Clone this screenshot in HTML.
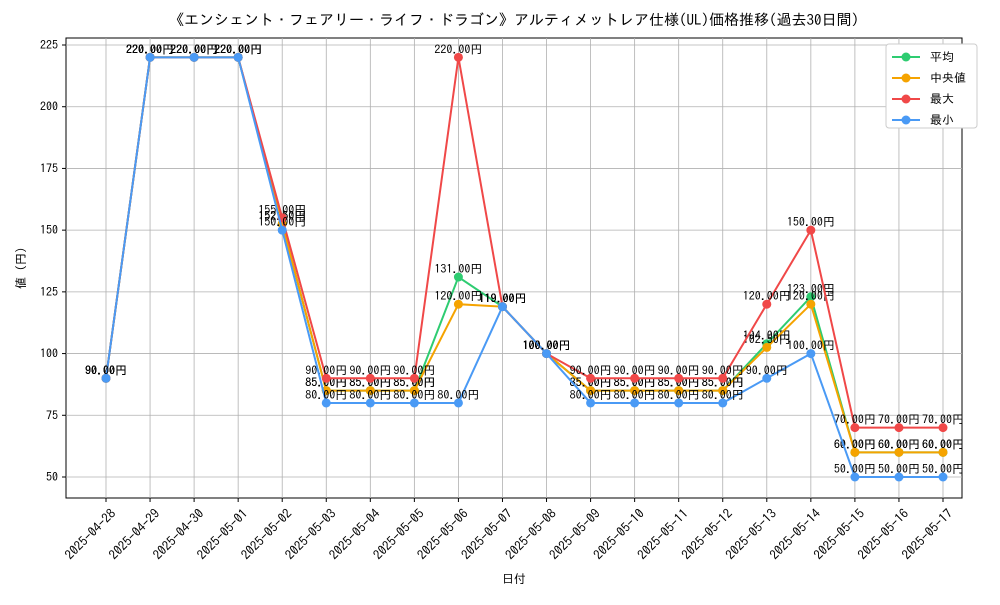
<!DOCTYPE html>
<html><head><meta charset="utf-8"><style>
body{margin:0;background:#fff}
svg{font-family:"IPAGothic","Noto Sans CJK JP",sans-serif}
</style></head><body>
<svg id="c" width="1000" height="600" xmlns="http://www.w3.org/2000/svg">
<text x="514" y="25" text-anchor="middle" font-size="15">《エンシェント・フェアリー・ライフ・ドラゴン》アルティメットレア仕様(UL)価格推移(過去30日間)</text>
<rect x="66" y="38" width="896" height="460" fill="none" stroke="#000" stroke-width="1"/>
<g id="grid"></g><g id="axes"></g><g id="series"></g>
<text x="514" y="583" text-anchor="middle" font-size="12">日付</text>
<text transform="translate(25,268) rotate(-90)" text-anchor="middle" font-size="12">値 (円)</text>
<g id="legend"></g>
</svg>
<script>
const dates=["2025-04-28","2025-04-29","2025-04-30","2025-05-01","2025-05-02","2025-05-03","2025-05-04","2025-05-05","2025-05-06","2025-05-07","2025-05-08","2025-05-09","2025-05-10","2025-05-11","2025-05-12","2025-05-13","2025-05-14","2025-05-15","2025-05-16","2025-05-17"];
const avgVals=[90,220,220,220,152.5,85,85,85,131,119,100,85,85,85,85,104,123,60,60,60];
const medVals=[90,220,220,220,152.5,85,85,85,120,119,100,85,85,85,85,102.5,120,60,60,60];
const maxVals=[90,220,220,220,155,90,90,90,220,119,100,90,90,90,90,120,150,70,70,70];
const minVals=[90,220,220,220,150,80,80,80,80,119,100,80,80,80,80,90,100,50,50,50];
const yTicks=[50,75,100,125,150,175,200,225];
const seriesNames=["平均","中央値","最大","最小"];
const NS="http://www.w3.org/2000/svg";
const X=i=>106+i*(943-106)/19;
const Y=v=>477-(v-50)*(477-45)/175;
function mk(p,t,a){const e=document.createElementNS(NS,t);for(const k in a)e.setAttribute(k,a[k]);p.appendChild(e);return e;}
const grid=document.getElementById('grid'),axes=document.getElementById('axes'),sg=document.getElementById('series'),lg=document.getElementById('legend');
dates.forEach((d,i)=>{
 const l=mk(grid,'line',{x1:X(i),x2:X(i),y1:38,y2:498,stroke:'#b0b0b0','stroke-width':0.8});
 
 
 const tk=mk(axes,'line',{x1:X(i),x2:X(i),y1:498,y2:502,stroke:'#000'});
 
 
 const t=mk(axes,'text',{transform:`translate(${X(i)+4},${508}) rotate(-45)`,'text-anchor':'end','font-size':13,dy:'0.7em'});
 t.textContent=d;
 
 
});
yTicks.forEach(v=>{
 const l=mk(grid,'line',{x1:66,x2:962,y1:Y(v),y2:Y(v),stroke:'#b0b0b0','stroke-width':0.8});
 
 
 const tk=mk(axes,'line',{x1:62,x2:66,y1:Y(v),y2:Y(v),stroke:'#000'});
 
 
 const t=mk(axes,'text',{x:58,y:Y(v)+4,'text-anchor':'end','font-size':12});
 t.textContent=v;
 
 
});
const all=[[avgVals,'#2ecc71'],[medVals,'#f5a300'],[maxVals,'#f04848'],[minVals,'#4a9af5']];
all.forEach(([vals,col],si)=>{
 const g=mk(sg,'g',{});
 
 
 const pl=mk(g,'polyline',{points:vals.map((v,i)=>X(i)+','+Y(v)).join(' '),fill:'none',stroke:col,'stroke-width':2});
 
 
 vals.forEach((v,i)=>{
  const c=mk(g,'circle',{cx:X(i),cy:Y(v),r:4.5,fill:col});
  
  
  const t=mk(g,'text',{x:X(i),y:Y(v)-4,'text-anchor':'middle','font-size':12});
  t.textContent=v.toFixed(2)+'円';
  
  
 });
});
const box=mk(lg,'rect',{x:886,y:44,width:91,height:84,fill:'#fff',stroke:'#ccc',rx:3});


seriesNames.forEach((n,i)=>{
 const y=57+i*21,col=all[i][1];
 const g=mk(lg,'g',{});
 
 
 mk(g,'line',{x1:892,x2:920,y1:y,y2:y,stroke:col,'stroke-width':2});
 mk(g,'circle',{cx:906,cy:y,r:4.5,fill:col});
 const t=mk(g,'text',{x:930,y:y+4,'font-size':12});
 t.textContent=n;
});
</script>
</body></html>
